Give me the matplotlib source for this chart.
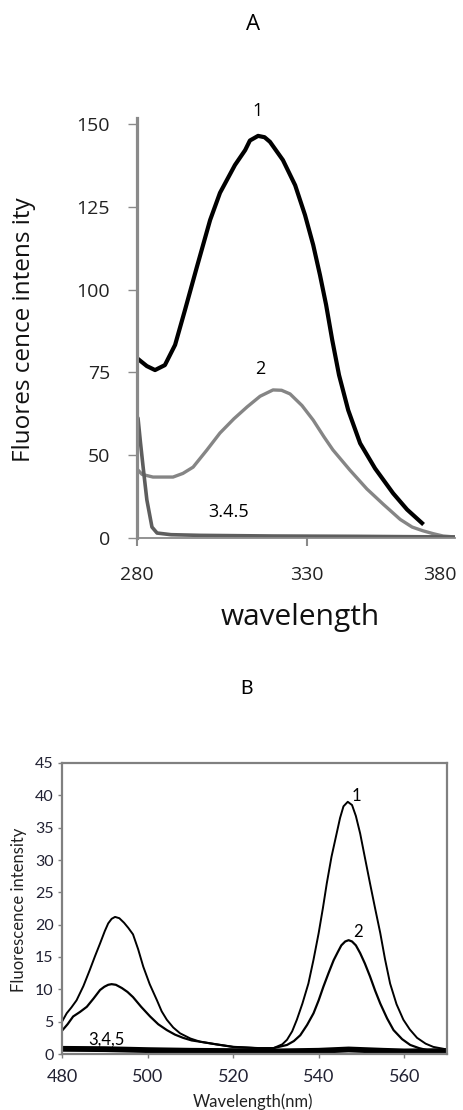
import matplotlib
matplotlib.use("Agg")
import matplotlib.pyplot as plt

# ---- panel A data (y in axis units; bottom tick labelled "0" sits at 25)
a_x1 = [280, 282.9, 285.3, 288.2, 291.2, 294.1, 297.6, 301.5, 304.4, 308.8, 311.8,
        313.2, 315.6, 317.5, 319.1, 322.9, 326.5, 329.4, 331.8, 333.8, 335.6,
        337.4, 339.4, 342.1, 345.6, 350.0, 355.3, 359.4, 363.8]
a_y1 = [79.3, 76.9, 75.7, 77.2, 83.3, 93.8, 106.8, 121.0, 129.2, 137.6, 142.1,
        145.0, 146.4, 146.0, 144.6, 139.1, 131.5, 122.5, 113.5, 104.4, 95.4,
        84.8, 74.2, 63.6, 53.6, 46.0, 38.5, 33.6, 29.5]
a_x2 = [280.3, 281.5, 284.7, 290.6, 293.5, 296.5, 300.5, 304.4, 308.5, 312.4, 316.2,
        320.0, 322.5, 325.0, 328.5, 331.8, 335.0, 337.6, 342.6, 347.6, 352.4,
        357.4, 360.9, 364.0, 367.1, 370.0, 373.5]
a_y2 = [45.5, 44.2, 43.4, 43.4, 44.5, 46.4, 51.5, 56.7, 61.0, 64.6, 67.8,
        69.7, 69.6, 68.5, 65.0, 60.6, 55.5, 51.6, 45.5, 39.8, 35.2,
        30.6, 28.3, 27.2, 26.3, 25.6, 25.3]
a_x3 = [280.0, 280.3, 281.0, 281.8, 282.9, 284.4, 285.9, 290, 298.5, 320, 345, 373.5]
a_y3 = [61.5, 61.2, 54.0, 46.4, 36.5, 28.3, 26.5, 26.0, 25.8, 25.6, 25.5, 25.3]
a_yticks = [25, 50, 75, 100, 125, 150]
a_yticklabels = ["0", "50", "75", "100", "125", "150"]
a_xticks = [280, 330, 369]
a_xticklabels = ["280", "330", "380"]

# ---- panel B data
b_x1 = [480, 481.1, 482.2, 483.4, 485.0, 486.5, 487.7, 488.9, 490.0, 490.8, 491.6,
        492.4, 493.4, 494.5, 495.5, 496.6, 497.8, 499.0, 500.5, 502.2, 503.3,
        504.5, 506.0, 507.6, 510.0, 512.3, 516.0, 520.0, 526.0, 529.4, 531.5,
        532.6, 533.8, 534.9, 536.2, 537.6, 538.8, 540.0, 541.0, 541.9, 543.0,
        544.2, 545.0, 545.8, 546.8, 547.8, 548.7, 549.7, 550.8, 552.0, 553.2,
        554.4, 555.5, 556.7, 558.2, 559.8, 561.3, 563.0, 565.0, 566.8, 570]
b_y1 = [5.0, 6.3, 7.2, 8.3, 10.5, 13.0, 15.1, 17.1, 19.0, 20.2, 20.9,
        21.2, 21.0, 20.3, 19.5, 18.5, 16.2, 13.5, 10.8, 8.3, 6.6,
        5.3, 4.1, 3.2, 2.4, 1.9, 1.5, 1.1, 0.9, 0.9, 1.5,
        2.2, 3.5, 5.3, 7.8, 10.9, 14.6, 18.7, 22.6, 26.4, 30.5,
        34.1, 36.5, 38.3, 39.0, 38.5, 36.8, 34.1, 30.4, 26.4, 22.5,
        18.7, 14.7, 10.9, 7.7, 5.3, 3.8, 2.5, 1.6, 1.1, 0.7]
b_x2 = [480, 481.3, 482.6, 484.2, 485.8, 487.4, 488.9, 489.9, 490.8, 491.6, 492.6,
        494.0, 495.3, 496.6, 498.5, 500.6, 502.5, 504.5, 506.4, 508.3, 510.3,
        512.3, 516.0, 520.0, 526.0, 529.4, 532.6, 534.2, 535.7, 537.3, 538.8,
        540.0, 541.1, 542.3, 543.5, 544.5, 545.3, 546.2, 547.0, 547.8, 548.7,
        549.7, 550.8, 552.0, 553.2, 554.4, 556.0, 557.5, 559.5, 561.4, 563.5,
        566.0, 570]
b_y2 = [3.6, 4.6, 5.8, 6.5, 7.3, 8.6, 9.9, 10.4, 10.7, 10.8, 10.7,
        10.2, 9.6, 8.8, 7.3, 5.8, 4.6, 3.7, 3.0, 2.5, 2.1,
        1.9, 1.5, 1.1, 0.9, 0.9, 1.4, 2.0, 2.9, 4.5, 6.3,
        8.3, 10.4, 12.5, 14.5, 15.8, 16.8, 17.4, 17.6, 17.4, 16.8,
        15.6, 14.0, 12.0, 9.8, 7.8, 5.5, 3.7, 2.3, 1.4, 0.9,
        0.5, 0.4]
b_x3 = [480, 490, 500, 510, 520, 530, 540, 547, 555, 560, 570]
b_y3 = [0.8, 0.75, 0.6, 0.5, 0.45, 0.4, 0.5, 0.7, 0.5, 0.4, 0.45]

fig = plt.figure(figsize=(4.63, 11.1), dpi=100)

# ================= panel A
fa = "Open Sans"
ax = fig.add_axes([137/463, 1-538/1110, 318/463, 420/1110])
ax.plot(a_x1, a_y1, color="black", lw=3.0, solid_joinstyle="round")
ax.plot(a_x2, a_y2, color="#858585", lw=2.4, solid_joinstyle="round")
ax.plot(a_x3, a_y3, color="#5e5e5e", lw=2.6)
ax.set_xlim(280, 373.5)
ax.set_ylim(25, 151.8)
for s in ["top", "right"]:
    ax.spines[s].set_visible(False)
ax.spines["left"].set_color("#8a8a8a")
ax.spines["left"].set_linewidth(2.3)
ax.spines["bottom"].set_color("#8a8a8a")
ax.spines["bottom"].set_linewidth(1.3)
ax.set_yticks(a_yticks)
ax.set_yticklabels(a_yticklabels, fontfamily=fa, fontsize=14, color="#222")
ax.set_xticks(a_xticks)
ax.set_xticklabels(a_xticklabels, fontfamily=fa, fontsize=14, color="#222")
ax.tick_params(axis="y", length=6.5, width=1, color="#8a8a8a", pad=13)
ax.tick_params(axis="x", length=6, width=1.5, color="#8a8a8a", pad=14)
ax.xaxis.get_major_ticks()[2].tick1line.set_visible(False)
ax.text(315.3, 154.0, "1", ha="center", va="center", fontsize=13, fontfamily=fa, clip_on=False)
ax.text(316.2, 76.0, "2", ha="center", va="center", fontsize=13, fontfamily=fa)
ax.text(307.0, 32.9, "3.4.5", ha="center", va="center", fontsize=13, fontfamily=fa)
fig.text(253/463, 1-25/1110, "A", ha="center", va="center", fontsize=16, fontfamily=fa)
fig.text(24/463, 1-330/1110, "Fluores cence intens ity", rotation=90, ha="center",
         va="center", fontsize=17.5, fontfamily=fa, color="#111")
fig.text(300/463, 1-617/1110, "wavelength", ha="center", va="center", fontsize=21.5,
         fontfamily=fa, color="#111")

# ================= panel B
fb = "Lato"
bx = fig.add_axes([62/463, 1-1054/1110, 385/463, 291/1110])
bx.plot(b_x1, b_y1, color="black", lw=1.4, solid_joinstyle="round")
bx.plot(b_x2, b_y2, color="black", lw=1.6, solid_joinstyle="round")
bx.plot(b_x3, b_y3, color="black", lw=4.2)
bx.set_xlim(480, 570)
bx.set_ylim(0, 45)
bx.set_xticks([480, 500, 520, 540, 560])
bx.set_yticks(range(0, 46, 5))
for s in bx.spines.values():
    s.set_color("#808080")
    s.set_linewidth(1.6)
bx.tick_params(axis="both", length=3, width=1, color="#808080")
bx.tick_params(axis="x", labelsize=13, pad=8, labelcolor="#222233")
bx.tick_params(axis="y", labelsize=11.5, pad=3, labelcolor="#222233")
for lab in bx.get_xticklabels() + bx.get_yticklabels():
    lab.set_fontfamily(fb)
bx.text(548.8, 39.9, "1", ha="center", va="center", fontsize=12, fontfamily=fb)
bx.text(549.3, 18.9, "2", ha="center", va="center", fontsize=12, fontfamily=fb)
bx.text(490.5, 2.2, "3,4,5", ha="center", va="center", fontsize=12, fontfamily=fb)
fig.text(247/463, 1-688/1110, "B", ha="center", va="center", fontsize=14, fontfamily=fb)
fig.text(19/463, 1-910/1110, "Fluorescence intensity", rotation=90, ha="center",
         va="center", fontsize=12, fontfamily=fb, color="#222")
fig.text(253/463, 1-1102/1110, "Wavelength(nm)", ha="center", va="center", fontsize=12,
         fontfamily=fb, color="#222")

fig.savefig("out.png", dpi=100)
